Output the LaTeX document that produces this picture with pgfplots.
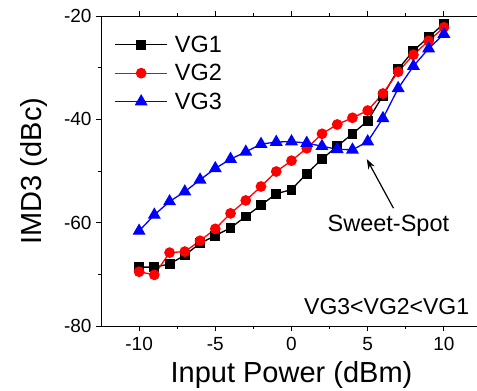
\documentclass[border=0pt]{standalone}
\usepackage{fontspec}
\setmainfont{Liberation Sans}
\usepackage{pgfplots}
\pgfplotsset{compat=1.18}
\usetikzlibrary{arrows.meta}
\begin{document}
\begin{tikzpicture}
\begin{axis}[
  scale only axis,
  width=381pt, height=310pt,
  xmin=-12.5, xmax=12.5, ymin=-80, ymax=-20,
  xtick={-10,-5,0,5,10}, ytick={-80,-60,-40,-20},
  minor x tick num=1, minor y tick num=1,
  tick align=outside,
  xtick pos=both, ytick pos=left,
  major tick length=5pt, minor tick length=3pt,
  tick style={black, line width=0.8pt},
  axis line style={line width=0.8pt},
  /pgf/number format/assume math mode=true,
  ticklabel style={font=\fontsize{19}{22}\selectfont},
  xticklabel style={yshift=-3pt},
  yticklabel style={xshift=-1pt},
  xlabel={Input Power (dBm)},
  ylabel={IMD3 (dBc)},
  xlabel style={at={(axis description cs:0.5,-0.181)}, anchor=base, font=\fontsize{29}{34}\selectfont},
  ylabel style={at={(axis description cs:-0.155,0.5)}, anchor=base, font=\fontsize{29}{34}\selectfont},
  legend style={draw=none, fill=none, at={(axis description cs:0.035,0.94)}, anchor=north west,
    font=\fontsize{23.5}{28}\selectfont, inner sep=0pt, row sep=8.5pt,
    nodes={inner sep=1pt}},
  legend cell align=left,
  legend image code/.code={\draw[mark=none] (0pt,0pt) -- (52pt,0pt); \draw plot coordinates {(26pt,0pt)};},
  /tikz/every odd column/.append style={column sep=6pt},
  clip=false,
]
\addplot[black, line width=1.3pt, mark=square*, mark size=4.3pt, mark options={solid}] coordinates {
(-10,-68.6) (-9,-68.6) (-8,-68.0) (-7,-66.3) (-6,-64.0) (-5,-62.5) (-4,-61.0) (-3,-58.8) (-2,-56.6) (-1,-54.4) (0,-53.6)
(1,-50.5) (2,-47.7) (3,-45.2) (4,-42.8) (5,-40.3) (6,-35.4) (7,-30.3) (8,-26.7) (9,-24.1) (10,-21.5)};
\addlegendentry{VG1}
\addplot[red, line width=1.3pt, mark=*, mark size=4.7pt, mark options={solid}] coordinates {
(-10,-69.5) (-9,-70.1) (-8,-65.8) (-7,-65.6) (-6,-63.5) (-5,-61.2) (-4,-58.2) (-3,-55.7) (-2,-53.0) (-1,-50.1) (0,-48.0)
(1,-45.6) (2,-42.8) (3,-41.0) (4,-39.7) (5,-38.3) (6,-35.0) (7,-30.8) (8,-27.5) (9,-24.8) (10,-22.2)};
\addlegendentry{VG2}
\addplot[blue, line width=1.3pt, mark=triangle*, mark size=6.2pt, mark options={solid}] coordinates {
(-10,-61.6) (-9,-58.5) (-8,-55.9) (-7,-54.0) (-6,-51.7) (-5,-49.5) (-4,-47.7) (-3,-46.3) (-2,-44.8) (-1,-44.4) (0,-44.3)
(1,-44.6) (2,-45.2) (3,-45.8) (4,-45.9) (5,-44.3) (6,-39.8) (7,-34.0) (8,-29.7) (9,-26.3) (10,-23.5)};
\addlegendentry{VG3}
\draw[black, line width=1.2pt, -{Stealth[length=10pt,width=7pt]}] (axis cs:6.69,-57.2) -- (axis cs:4.94,-47.7);
\node[anchor=base, font=\fontsize{23.5}{28}\selectfont, inner sep=0pt] at (axis cs:6.36,-61.75) {Sweet-Spot};
\node[anchor=base east, font=\fontsize{23}{28}\selectfont, inner sep=0pt] at (axis cs:11.67,-77.87) {VG3<VG2<VG1};
\end{axis}
\pgfresetboundingbox
\path ([shift={(-101pt,-65pt)}]current axis.south west) rectangle ([shift={(376pt,326pt)}]current axis.south west);
\end{tikzpicture}
\end{document}
